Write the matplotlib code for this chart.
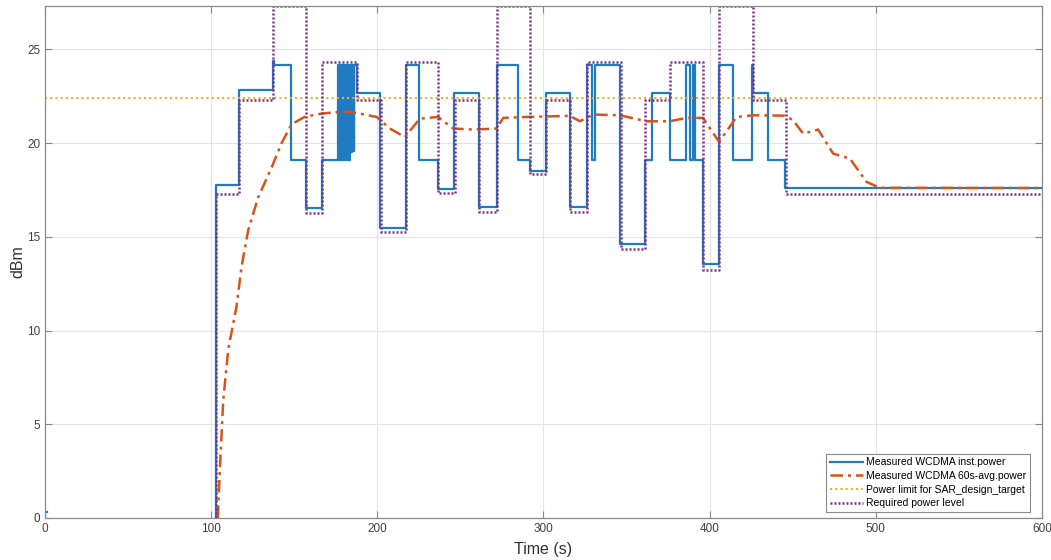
import matplotlib
matplotlib.use("Agg")
import matplotlib.pyplot as plt

plt.rcParams['font.family'] = ['Liberation Sans', 'DejaVu Sans']

nan = float('nan')

# ---- data ----
# Measured WCDMA inst.power: step series (time s, level dBm), held until next time
inst_t = [0, 1.5, 102.9, 103, 117, 137, 137.6, 148, 157, 167]
inst_v = [0.3, nan, 0.0, 17.75, 22.85, 24.4, 24.18, 19.08, 16.56, 19.08]
# dense toggling burst around 176-187 s
burst_t = [176.4, 176.7, 177.0, 177.4, 177.7, 178.1, 178.4, 178.8, 179.1, 179.5,
           179.8, 180.2, 180.5, 180.9, 181.2, 181.6, 181.9, 182.3, 182.6, 183.0,
           183.3, 183.7, 184.0, 184.4, 184.7, 185.1, 185.4, 185.8, 186.1, 186.5]
burst_v = [24.18, 19.08, 24.18, 19.08, 24.18, 19.08, 24.18, 19.08, 24.18, 19.08,
           24.18, 19.08, 24.18, 19.08, 24.18, 19.08, 24.18, 19.08, 24.18, 19.08,
           24.18, 19.5, 24.18, 19.5, 24.18, 19.7, 24.18, 19.6, 24.18, 24.18]
inst_t2 = [187.5, 201.5, 217.2, 225, 236.7, 246.3, 261, 271.8, 284.8, 291.8,
           301.8, 316, 326, 329, 331, 346, 361, 365.6, 376, 385.7,
           388, 389.7, 391, 396, 405.7, 414, 425.6, 426.0, 435.2, 445.5, 600]
inst_v2 = [22.67, 15.47, 24.18, 19.08, 17.57, 22.67, 16.6, 24.18, 19.08, 18.5,
           22.67, 16.6, 24.18, 19.08, 24.18, 14.59, 19.08, 22.67, 19.08, 24.18,
           19.08, 24.18, 19.08, 13.57, 24.18, 19.08, 24.18, 22.67, 19.08, 17.6, 17.6]

# Measured WCDMA 60s-avg.power
avg_t = [104, 105.3, 107.3, 110.3, 115.3, 118.3, 122.3, 128.3, 136.4, 142.4,
         148.4, 156.4, 166.5, 177.5, 184.5, 189.5, 199.6, 207.6, 216.6, 225.6,
         236.6, 245.7, 257.7, 271.8, 275.8, 289.8, 315.9, 321.9, 329.9, 346,
         362, 376, 386, 396, 405.7, 416.2, 426.2, 445.2, 450.2, 456.3,
         465.3, 474.3, 484.4, 494.4, 502.4, 600]
avg_v = [0.0, 2.7, 6.3, 9.0, 11.3, 13.4, 15.35, 17.1, 18.7, 20.0,
         21.0, 21.4, 21.57, 21.66, 21.66, 21.57, 21.39, 20.77, 20.32, 21.3,
         21.39, 20.77, 20.72, 20.77, 21.34, 21.39, 21.45, 21.16, 21.52, 21.48,
         21.16, 21.16, 21.34, 21.34, 20.06, 21.39, 21.48, 21.46, 21.22, 20.5,
         20.72, 19.44, 19.17, 17.93, 17.61, 17.6]

# Power limit for SAR_design_target
limit_level = 22.4

# Required power level: step series
req_t = [102.9, 103, 117, 137, 157, 167, 187.5, 202, 217, 236.7, 246.5, 261, 271.8,
         291.8, 301.8, 316, 326, 346.5, 361, 376, 396, 405.7, 425.8, 445.8, 600]
req_v = [0.0, 17.3, 22.3, 27.3, 16.27, 24.33, 22.3, 15.27, 24.33, 17.34, 22.3, 16.3, 27.3,
         18.34, 22.3, 16.3, 24.33, 14.37, 22.3, 24.33, 13.25, 27.3, 22.3, 17.3, 17.3]

x_ticks = [0, 100, 200, 300, 400, 500, 600]
y_ticks = [0, 5, 10, 15, 20, 25]

# ---- figure ----
fig = plt.figure(figsize=(10.51, 5.60), dpi=100)
ax = fig.add_axes([0.0428, 0.075, 0.9486, 0.914])

blue = '#1f7cc2'
orange = '#D95319'
yellow = '#EDB120'
purple = '#7E2F8E'

all_t = inst_t + burst_t + inst_t2
all_v = inst_v + burst_v + inst_v2
ax.step(all_t, all_v, where='post', color=blue, lw=1.6,
        label='Measured WCDMA inst.power', zorder=3)
ax.plot(avg_t, avg_v, color=orange, lw=1.8, dashes=(5, 2, 1.2, 2),
        label='Measured WCDMA 60s-avg.power', zorder=4)
ax.axhline(limit_level, color=yellow, lw=1.5, ls=(0, (1, 1.5)),
           label='Power limit for SAR_design_target', zorder=5)
ax.step(req_t, req_v, where='post', color=purple, lw=1.8, ls=(0, (0.8, 0.8)),
        label='Required power level', zorder=6)

ax.set_xlim(0, 600)
ax.set_ylim(0, 27.3)
ax.set_xticks(x_ticks)
ax.set_yticks(y_ticks)
ax.grid(True, color='#e4e4e4', lw=0.8)
ax.set_axisbelow(True)
for s in ax.spines.values():
    s.set_color('#8a8a8a')
    s.set_linewidth(0.9)
    s.set_zorder(7)
ax.tick_params(direction='in', length=5, width=0.8, color='#8a8a8a',
               labelsize=8.5, labelcolor='#404040', top=True, right=True)
ax.set_xlabel('Time (s)', fontsize=11.5, color='#303030', labelpad=5)
ax.set_ylabel('dBm', fontsize=11.5, color='#303030', labelpad=1)

leg = ax.legend(loc='lower right', bbox_to_anchor=(0.988, 0.012), fontsize=7.5,
                frameon=True, fancybox=False, framealpha=1, edgecolor='#8a8a8a',
                handlelength=3.2, handletextpad=0.3, borderpad=0.35,
                labelspacing=0.35, borderaxespad=0)
leg.get_frame().set_linewidth(0.8)
leg.set_zorder(8)

fig.savefig('out.png', dpi=100)
